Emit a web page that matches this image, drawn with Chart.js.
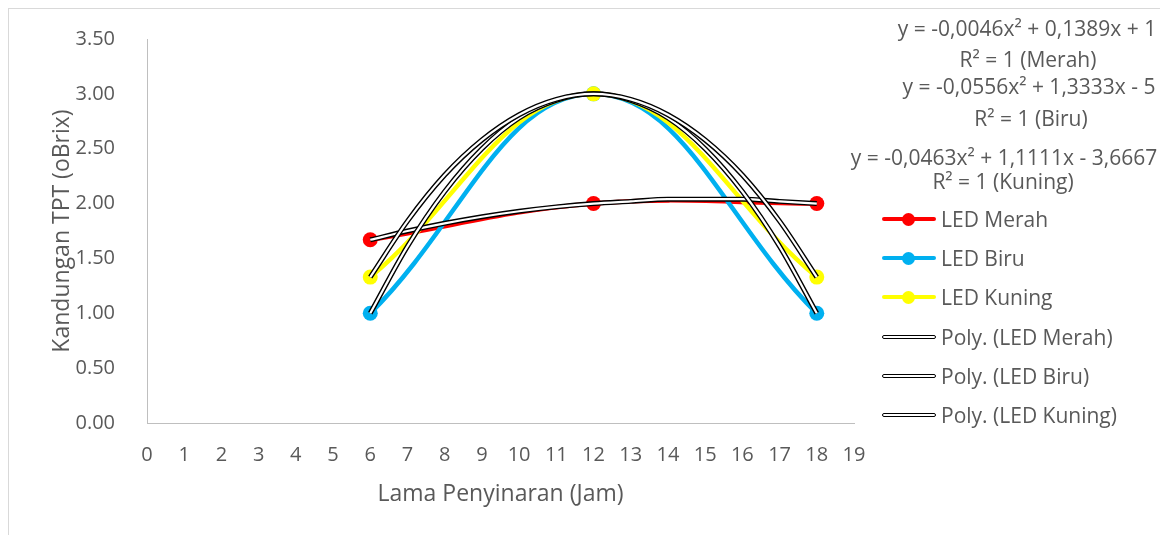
<!DOCTYPE html>
<html><head><meta charset="utf-8">
<script src="https://cdn.jsdelivr.net/npm/chart.js@4.4.0/dist/chart.umd.min.js"></script>
<style>
html,body{margin:0;padding:0;background:#fff;}
#wrap{position:relative;width:1160px;height:535px;overflow:hidden;font-family:"Open Sans",sans-serif;color:#595959;}
#frame{position:absolute;left:8px;top:8px;width:1200px;height:540px;border-left:1px solid #d9d9d9;border-top:1px solid #d9d9d9;}
#c{position:absolute;left:0;top:0;}
.eq{position:absolute;font-size:21px;line-height:24px;white-space:nowrap;transform:translateX(-50%);}
.lg{position:absolute;left:882px;height:24px;width:270px;font-size:21px;line-height:24px;white-space:nowrap;}
.lg .ln{position:absolute;left:0;top:10px;width:54px;height:4px;border-radius:2px;}
.lg .dot{position:absolute;left:19.5px;top:5.5px;width:13px;height:13px;border-radius:50%;}
.lg .poly{position:absolute;left:0;top:10px;width:52px;height:2px;background:#fff;border:1px solid #000;border-radius:2px;}
.lg .tx{position:absolute;left:59px;top:0;}
</style>
</head>
<body>
<div id="wrap">
  <div id="frame"></div>
  <canvas id="c" width="1160" height="535"></canvas>
</div>
<script>
// ---- data ----
const seriesNames = ['LED Merah', 'LED Biru', 'LED Kuning'];
const trendNames = ['Poly. (LED Merah)', 'Poly. (LED Biru)', 'Poly. (LED Kuning)'];
const seriesColors = ['#FF0000', '#00B0F0', '#FFFF00'];
const xHours = [6, 12, 18];
const merah = [1.67, 2.00, 2.00];
const biru = [1.00, 3.00, 1.00];
const kuning = [1.33, 3.00, 1.33];
const trendX = [6, 7, 8, 9, 10, 11, 12, 13, 14, 15, 16, 17, 18];
const trendMerah = [1.67, 1.75, 1.82, 1.88, 1.93, 1.97, 2.00, 2.02, 2.04, 2.04, 2.04, 2.02, 2.00];
const trendBiru = [1.00, 1.61, 2.11, 2.50, 2.78, 2.94, 3.00, 2.94, 2.78, 2.50, 2.11, 1.61, 1.00];
const trendKuning = [1.33, 1.84, 2.26, 2.58, 2.81, 2.95, 3.00, 2.95, 2.81, 2.58, 2.26, 1.84, 1.33];
const eqMerah = ['y = -0,0046x² + 0,1389x + 1', 'R² = 1 (Merah)'];
const eqBiru = ['y = -0,0556x² + 1,3333x - 5', 'R² = 1 (Biru)'];
const eqKuning = ['y = -0,0463x² + 1,1111x - 3,6667', 'R² = 1 (Kuning)'];
const xTitle = 'Lama Penyinaran (Jam)';
const yTitle = 'Kandungan TPT (oBrix)';

// ---- build ----
const seriesValues = [merah, biru, kuning];
const trendValues = [trendMerah, trendBiru, trendKuning];
const datasets = [];
seriesValues.forEach((vals, i) => {
  datasets.push({
    label: seriesNames[i],
    data: xHours.map((x, j) => ({x: x, y: vals[j]})),
    borderColor: seriesColors[i],
    backgroundColor: seriesColors[i],
    borderWidth: 4.5,
    pointRadius: 7.5,
    pointBorderWidth: 0,
    pointHoverRadius: 7.5,
    tension: 0.4,
    order: 9 - i
  });
});
trendValues.forEach((vals, i) => {
  const pts = trendX.map((x, j) => ({x: x, y: vals[j]}));
  datasets.push({
    label: trendNames[i],
    data: pts,
    borderColor: '#000000',
    borderWidth: 5,
    pointRadius: 0,
    cubicInterpolationMode: 'monotone',
    order: 6 - 2 * i
  });
  datasets.push({
    label: trendNames[i] + ' inner',
    data: pts,
    borderColor: '#ffffff',
    borderWidth: 2.2,
    pointRadius: 0,
    cubicInterpolationMode: 'monotone',
    order: 5 - 2 * i
  });
});

const tickFont = {family: 'Open Sans', size: 20};
const titleFont = {family: 'Open Sans', size: 23};
new Chart(document.getElementById('c'), {
  type: 'line',
  data: {datasets: datasets},
  options: {
    responsive: false,
    animation: false,
    devicePixelRatio: 1,
    layout: {padding: {left: 0, right: 306, top: 39, bottom: 0}},
    plugins: {legend: {display: false}, tooltip: {enabled: false}},
    scales: {
      x: {
        type: 'linear', min: 0, max: 19,
        ticks: {stepSize: 1, color: '#595959', font: tickFont, padding: 12, maxRotation: 0, autoSkip: false},
        grid: {display: false},
        border: {display: true, color: '#bfbfbf', width: 1},
        title: {display: true, text: xTitle, color: '#595959', font: titleFont, padding: {top: 0, bottom: 27}},
        afterFit: s => { s.height = 112; }
      },
      y: {
        type: 'linear', min: 0, max: 3.5,
        ticks: {stepSize: 0.5, color: '#595959', font: tickFont, padding: 24, callback: v => Number(v).toFixed(2)},
        grid: {display: false},
        border: {display: true, color: '#bfbfbf', width: 1},
        title: {display: true, text: yTitle, color: '#595959', font: titleFont, padding: {top: 49, bottom: 0}},
        afterFit: s => { s.width = 147; }
      }
    }
  }
});

// ---- equation labels ----
const wrap = document.getElementById('wrap');
const eqLines = [
  [eqMerah[0], 1027, 36], [eqMerah[1], 1028, 67],
  [eqBiru[0], 1029, 94], [eqBiru[1], 1031, 126],
  [eqKuning[0], 1004, 165], [eqKuning[1], 1003, 189]
];
eqLines.forEach(([t, cx, base]) => {
  const d = document.createElement('div');
  d.className = 'eq';
  d.textContent = t;
  d.style.left = cx + 'px';
  d.style.top = (base - 20) + 'px';
  wrap.appendChild(d);
});

// ---- legend ----
const legendY = [219, 258, 297, 337, 376, 415];
seriesNames.forEach((n, i) => {
  const d = document.createElement('div');
  d.className = 'lg';
  d.style.top = (legendY[i] - 12) + 'px';
  d.innerHTML = '<div class="ln" style="background:' + seriesColors[i] + '"></div><div class="dot" style="background:' + seriesColors[i] + '"></div>';
  const t = document.createElement('div'); t.className = 'tx'; t.textContent = n; d.appendChild(t);
  wrap.appendChild(d);
});
trendNames.forEach((n, i) => {
  const d = document.createElement('div');
  d.className = 'lg';
  d.style.top = (legendY[3 + i] - 12) + 'px';
  d.innerHTML = '<div class="poly"></div>';
  const t = document.createElement('div'); t.className = 'tx'; t.textContent = n; d.appendChild(t);
  wrap.appendChild(d);
});
</script>
</body></html>
